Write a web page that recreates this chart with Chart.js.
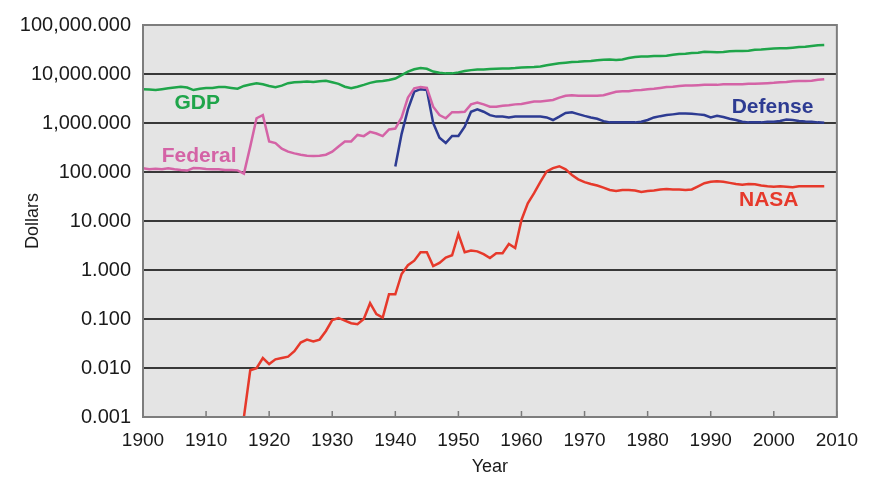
<!DOCTYPE html>
<html>
<head>
<meta charset="utf-8">
<script src="https://cdn.jsdelivr.net/npm/chart.js"></script>
<style>
    html, body { margin: 0; padding: 0; background: #ffffff; }
    #wrap { width: 870px; height: 478px; }
</style>
</head>
<body>
<div id="wrap"><canvas id="chart-1"></canvas></div>
<script>
//////////////////////////////////////////////// Data
const seriesNames = ['GDP', 'Federal', 'Defense', 'NASA']
const xTicks = [1900, 1910, 1920, 1930, 1940, 1950, 1960, 1970, 1980, 1990, 2000, 2010]
const yTicks = [0.001, 0.01, 0.1, 1, 10, 100, 1000, 10000, 100000]

// first year of each series, then one value per year
const gdpStart = 1900
const gdpValues = [
    4900, 4800, 4700, 4900, 5100, 5300, 5500, 5300, 4700, 5000,
    5200, 5200, 5400, 5400, 5200, 5000, 5700, 6100, 6500, 6200,
    5700, 5400, 5800, 6500, 6800, 6900, 7000, 6900, 7100, 7300,
    6800, 6300, 5500, 5100, 5500, 6000, 6600, 7000, 7200, 7550,
    8100, 9500, 11200, 12500, 13200, 12800, 11200, 10600, 10300, 10300,
    10800, 11500, 12000, 12400, 12400, 12600, 12800, 13000, 13000, 13200,
    13500, 13700, 13900, 14300, 15100, 15800, 16500, 17000, 17600, 17800,
    18200, 18500, 19000, 19500, 19800, 19300, 19800, 21200, 22200, 22800,
    22800, 23200, 23200, 23700, 24800, 25600, 26000, 26800, 27200, 28500,
    28200, 27700, 28200, 29200, 29600, 29600, 29900, 31200, 31700, 32500,
    33000, 33500, 33500, 34400, 35400, 36000, 37200, 38400, 39000
]

const federalStart = 1900
const federalValues = [
    119, 114, 117, 114, 119, 114, 110, 107, 120, 119,
    115, 114, 114, 110, 110, 108, 93, 330, 1250, 1450,
    420, 390, 300, 260, 240, 225, 215, 212, 215, 225,
    260, 330, 420, 420, 570, 540, 660, 610, 540, 740,
    770, 1300, 3300, 5100, 5400, 5200, 2150, 1450, 1250, 1660,
    1660, 1700, 2400, 2600, 2400, 2150, 2150, 2250, 2300, 2400,
    2450, 2600, 2750, 2750, 2850, 2950, 3300, 3600, 3700, 3600,
    3600, 3600, 3600, 3700, 4000, 4350, 4450, 4450, 4650, 4700,
    4900, 5000, 5200, 5400, 5500, 5700, 5800, 5800, 5900, 6000,
    6000, 6000, 6200, 6200, 6200, 6200, 6300, 6300, 6400, 6500,
    6600, 6800, 6900, 7100, 7200, 7200, 7300, 7600, 7800
]

const defenseStart = 1940
const defenseValues = [
    130, 600, 1900, 4350, 4900, 4700, 1000, 500, 390, 545,
    545, 840, 1700, 1900, 1700, 1450, 1350, 1350, 1300, 1350,
    1350, 1350, 1350, 1350, 1300, 1150, 1350, 1600, 1650, 1520,
    1400, 1300, 1220, 1090, 1030, 1030, 1030, 1030, 1030, 1060,
    1150, 1300, 1380, 1450, 1500, 1560, 1560, 1540, 1500, 1450,
    1300, 1400, 1320, 1220, 1150, 1060, 1030, 1030, 1030, 1060,
    1060, 1100, 1180, 1150, 1100, 1070, 1060, 1030, 1010
]

const nasaStart = 1916
const nasaValues = [
    0.001, 0.009, 0.0099, 0.016, 0.012, 0.015, 0.016, 0.017, 0.022, 0.033,
    0.038, 0.035, 0.038, 0.057, 0.095, 0.105, 0.093, 0.082, 0.078, 0.10,
    0.21, 0.126, 0.107, 0.32, 0.32, 0.83, 1.25, 1.55, 2.3, 2.3,
    1.2, 1.4, 1.8, 2.0, 5.4, 2.3, 2.5, 2.4, 2.1, 1.75,
    2.2, 2.2, 3.4, 2.8, 10.5, 23, 37, 63, 103, 120,
    131, 113, 87, 71, 62, 57, 53, 48, 43, 41,
    43, 43, 42, 39, 41, 42, 44, 45, 44, 44,
    43, 44, 51, 59, 63, 65, 63, 60, 57, 55,
    57, 56, 53, 51, 50, 51, 50, 49, 51, 51,
    51, 51, 51
]

const seriesColors = ['#1fa54a', '#d463a6', '#2d3b92', '#e6392b']

//////////////////////////////////////////////// Helpers
function toPoints(start, values) {
    return values.map((v, i) => ({ x: start + i, y: v }))
}

function fmtDollars(v) {
    return Number(v).toLocaleString('en-US', { minimumFractionDigits: 3, maximumFractionDigits: 3 })
}

// where the series names sit, in data units (year, dollars)
const nameAnchors = [
    { year: 1908.6, value: 2570 },
    { year: 1908.9, value: 215 },
    { year: 1999.8, value: 2130 },
    { year: 1999.2, value: 27 }
]

const plotDecor = {
    id: 'plotDecor',
    beforeDraw(chart) {
        const { ctx, chartArea: a } = chart
        ctx.save()
        ctx.fillStyle = '#e4e4e4'
        ctx.fillRect(a.left, a.top, a.right - a.left, a.bottom - a.top)
        ctx.restore()
    },
    afterDraw(chart) {
        const { ctx, chartArea: a, scales } = chart
        ctx.save()
        // small ticks pointing up into the plot
        ctx.strokeStyle = '#7a7a7a'
        ctx.lineWidth = 1.5
        scales.x.ticks.forEach(t => {
            const px = scales.x.getPixelForValue(t.value)
            ctx.beginPath()
            ctx.moveTo(px, a.bottom)
            ctx.lineTo(px, a.bottom - 6)
            ctx.stroke()
        })
        // frame
        ctx.strokeStyle = '#7d7d7d'
        ctx.lineWidth = 2
        ctx.strokeRect(a.left, a.top, a.right - a.left, a.bottom - a.top)
        // series names
        ctx.font = 'bold 21px "Liberation Sans", Arial, sans-serif'
        ctx.textAlign = 'center'
        ctx.textBaseline = 'middle'
        nameAnchors.forEach((p, i) => {
            ctx.fillStyle = seriesColors[i]
            ctx.fillText(seriesNames[i], scales.x.getPixelForValue(p.year), scales.y.getPixelForValue(p.value))
        })
        ctx.restore()
    }
}

//////////////////////////////////////////////// Chart-1
const ctx1 = document.getElementById('chart-1');

const tickFont = { family: '"Liberation Sans", Arial, sans-serif', size: 19 }
const titleFont = { family: '"Liberation Sans", Arial, sans-serif', size: 18 }

function line(i, points) {
    return {
        label: seriesNames[i],
        data: points,
        borderColor: seriesColors[i],
        backgroundColor: seriesColors[i],
        borderWidth: 2.5,
        pointRadius: 0,
        tension: 0,
        fill: false
    }
}

new Chart(ctx1, {
    type: 'line',
    data: {
        datasets: [
            line(0, toPoints(gdpStart, gdpValues)),
            line(1, toPoints(federalStart, federalValues)),
            line(2, toPoints(defenseStart, defenseValues)),
            line(3, toPoints(nasaStart, nasaValues))
        ]
    },
    plugins: [plotDecor],
    options: {
        responsive: true,
        maintainAspectRatio: false,
        animation: false,
        layout: { padding: { top: 25, right: 24, bottom: 0, left: 0 } },
        plugins: {
            legend: { display: false },
            tooltip: { enabled: false }
        },
        scales: {
            x: {
                type: 'linear',
                min: 1900,
                max: 2010,
                afterBuildTicks: s => { s.ticks = xTicks.map(v => ({ value: v })) },
                afterFit: s => { s.height = 61 },
                ticks: {
                    callback: v => String(v),
                    font: tickFont,
                    color: '#1a1a1a',
                    padding: 12,
                    maxRotation: 0,
                    autoSkip: false
                },
                grid: { display: false, drawTicks: false },
                border: { display: false },
                title: { display: true, text: 'Year', font: titleFont, color: '#1a1a1a', padding: 0 }
            },
            y: {
                type: 'logarithmic',
                min: 0.001,
                max: 100000,
                afterBuildTicks: s => { s.ticks = yTicks.map(v => ({ value: v })) },
                afterFit: s => { s.width = 143 },
                ticks: {
                    callback: v => fmtDollars(v),
                    font: { family: '"Liberation Sans", Arial, sans-serif', size: 20 },
                    color: '#1a1a1a',
                    padding: 12,
                    autoSkip: false
                },
                grid: {
                    color: c => (c.tick && (c.tick.value === 0.001 || c.tick.value === 100000)) ? 'rgba(0,0,0,0)' : '#383838',
                    lineWidth: 2,
                    drawTicks: false
                },
                border: { display: false },
                title: { display: true, text: 'Dollars', font: titleFont, color: '#1a1a1a', padding: { top: 22, bottom: 0 } }
            }
        }
    }
});
</script>
</body>
</html>
